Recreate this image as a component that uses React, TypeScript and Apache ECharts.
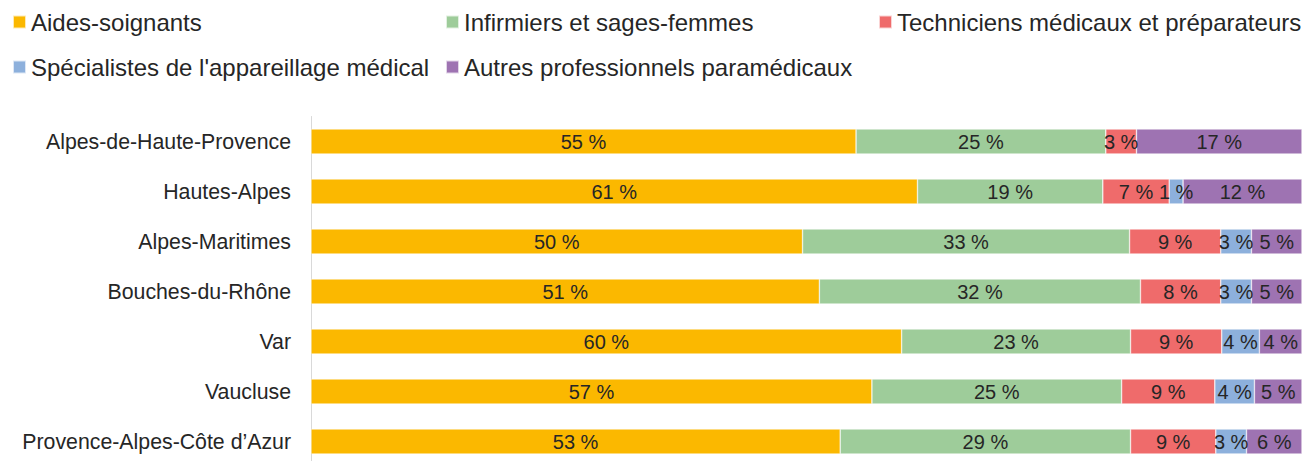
import React, { useEffect, useRef } from "react";
import * as echarts from "echarts";

const categories = [
  "Alpes-de-Haute-Provence",
  "Hautes-Alpes",
  "Alpes-Maritimes",
  "Bouches-du-Rhône",
  "Var",
  "Vaucluse",
  "Provence-Alpes-Côte d’Azur",
];

const seriesNames = [
  "Aides-soignants",
  "Infirmiers et sages-femmes",
  "Techniciens médicaux et préparateurs",
  "Spécialistes de l'appareillage médical",
  "Autres professionnels paramédicaux",
];

const aidesSoignants = [55.0, 61.2, 49.6, 51.3, 59.6, 56.6, 53.4];
const infirmiers = [25.2, 18.7, 33.0, 32.4, 23.1, 25.2, 29.3];
const techniciens = [3.1, 6.7, 9.2, 8.1, 9.2, 9.4, 8.6];
const specialistes = [0, 1.4, 3.1, 3.1, 3.8, 4.0, 3.1];
const autres = [16.7, 12.0, 5.1, 5.1, 4.3, 4.8, 5.6];

const seriesData = [aidesSoignants, infirmiers, techniciens, specialistes, autres];
const colors = ["#FBB800", "#9ECC9A", "#EF6B6B", "#8DB0DC", "#9E73B2"];

const legendPos = [
  { left: 12, top: 10 },
  { left: 445, top: 10 },
  { left: 878, top: 10 },
  { left: 12, top: 55 },
  { left: 445, top: 55 },
];

const FONT = "'Liberation Sans', Arial, Helvetica, sans-serif";

export default function App() {
  const ref = useRef<HTMLDivElement>(null);
  useEffect(() => {
    document.body.style.margin = "0";
    document.body.style.overflow = "hidden";
    if (!ref.current) return;
    const chart = echarts.init(ref.current, null, { renderer: "svg" });
    chart.setOption({
      animation: false,
      textStyle: { fontFamily: FONT },
      legend: seriesNames.map((n, i) => ({
        data: [{ name: n, icon: "rect" }],
        left: legendPos[i].left,
        top: legendPos[i].top,
        padding: 0,
        itemWidth: 13,
        itemHeight: 13,
        selectedMode: false,
        textStyle: { fontSize: 24, color: "#262626", fontFamily: FONT },
      })),
      grid: { left: 311, top: 116.5, width: 991, height: 350, containLabel: false },
      xAxis: {
        type: "value",
        min: 0,
        max: 100,
        show: false,
      },
      yAxis: {
        type: "category",
        data: categories,
        inverse: true,
        axisLine: { show: true, lineStyle: { color: "#D9D9D9", width: 1 } },
        axisTick: { show: false },
        axisLabel: { fontSize: 21.3, color: "#262626", margin: 20, fontFamily: FONT },
      },
      series: seriesNames.map((n, i) => ({
        name: n,
        type: "bar",
        stack: "total",
        barWidth: 25,
        data: seriesData[i],
        itemStyle: { color: colors[i], borderColor: "rgba(255,255,255,0.7)", borderWidth: 0.6 },
        label: {
          show: true,
          position: "inside",
          fontSize: 20,
          color: "#262626",
          fontFamily: FONT,
          formatter: (p: any) => (p.value > 0.5 ? Math.round(p.value) + " %" : ""),
        },
      })),
    });
    return () => chart.dispose();
  }, []);
  return <div ref={ref} style={{ width: 1305, height: 490 }} />;
}
